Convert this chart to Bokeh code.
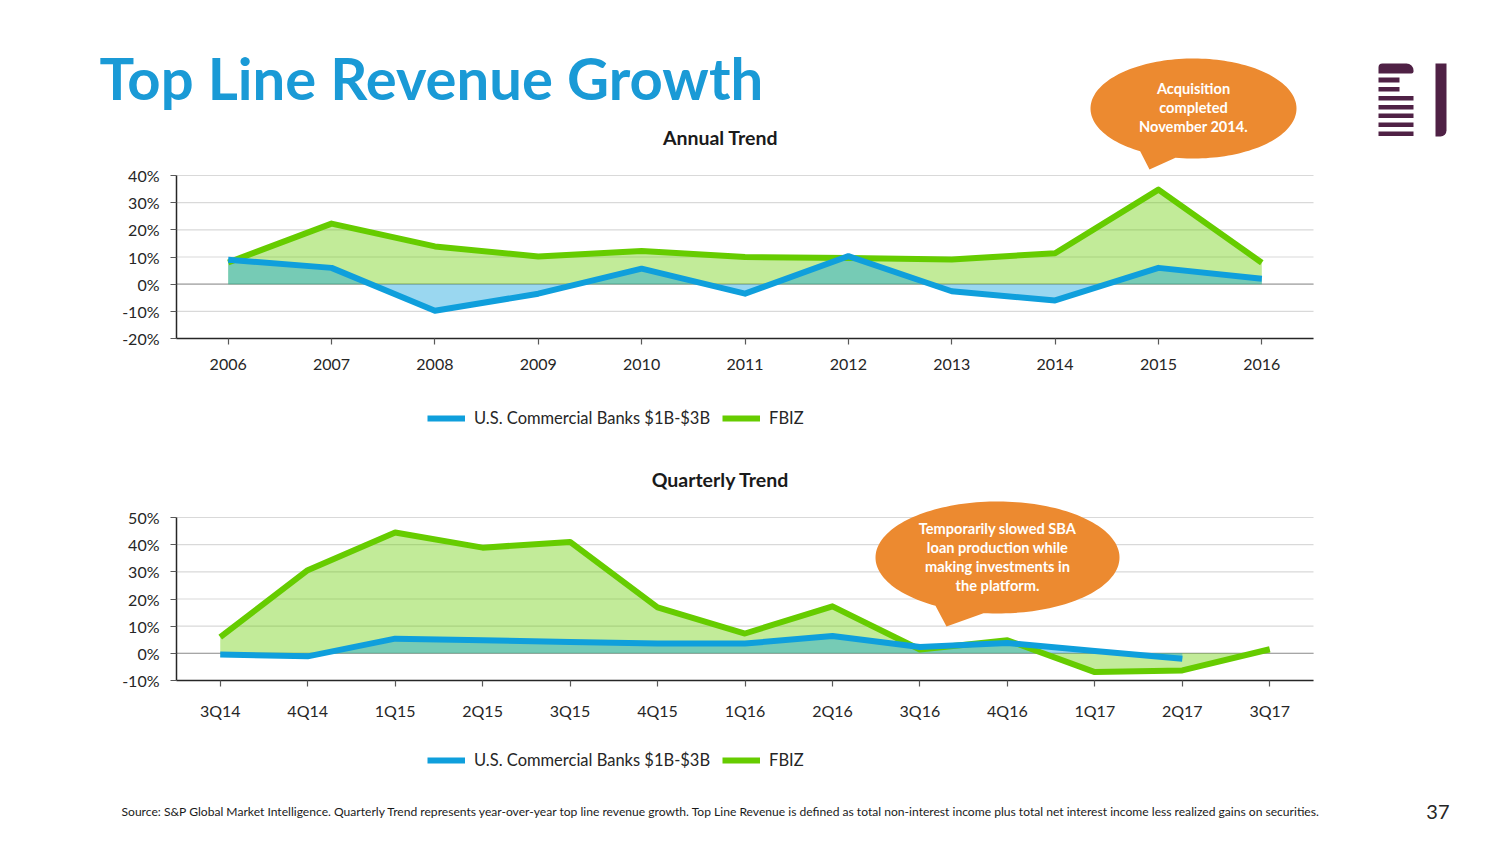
import numpy as np
from bokeh.plotting import figure
from bokeh.models import (Range1d, FixedTicker, PrintfTickFormatter, LinearAxis,
                          Label, Legend, LegendItem, PolyAnnotation, BoxAnnotation)
from bokeh.embed import file_html
from bokeh.resources import INLINE

# ---------------- data ----------------
years = ["2006", "2007", "2008", "2009", "2010", "2011", "2012", "2013", "2014", "2015", "2016"]
annual_banks = [9.0, 6.0, -9.8, -3.5, 5.7, -3.5, 10.3, -2.6, -6.0, 6.0, 2.0]
annual_fbiz = [8.0, 22.3, 13.9, 10.2, 12.2, 10.0, 9.6, 9.1, 11.4, 34.8, 7.9]
annual_ticks = [-20, -10, 0, 10, 20, 30, 40]

quarters = ["3Q14", "4Q14", "1Q15", "2Q15", "3Q15", "4Q15", "1Q16", "2Q16",
            "3Q16", "4Q16", "1Q17", "2Q17", "3Q17"]
quarterly_banks = [-0.4, -1.1, 5.4, 4.8, 4.2, 3.6, 3.6, 6.4, 2.3, 3.8, 0.9, -2.0]
quarterly_fbiz = [6.0, 30.6, 44.5, 38.9, 41.0, 16.9, 7.3, 17.3, 1.4, 4.8, -6.9, -6.3, 1.5]
quarterly_ticks = [-10, 0, 10, 20, 30, 40, 50]

series_names = ["U.S. Commercial Banks $1B-$3B", "FBIZ"]
page_title = "Top Line Revenue Growth"
annual_title = "Annual Trend"
quarterly_title = "Quarterly Trend"
note1 = ["Acquisition", "completed", "November 2014."]
note2 = ["Temporarily slowed SBA", "loan production while", "making investments in", "the platform."]
source_text = ("Source: S&P Global Market Intelligence. Quarterly Trend represents year-over-year top line "
               "revenue growth. Top Line Revenue is defined as total non-interest income plus total net "
               "interest income less realized gains on securities.")
page_number = "37"

# ---------------- style ----------------
BLUE = "#0f9fdc"
GREEN = "#66cc00"
ORANGE = "#ec8a30"
TITLE_BLUE = "#1a9ad6"
PLUM = "#4f2145"
TXT = "#262626"
FONT = "Lato"

W, H = 1504, 846
PLOT_L, PLOT_R = 176, 1313

# one canvas, frame = whole page; main ranges are page pixels (y downwards)
p = figure(width=W, height=H, x_range=Range1d(0, W), y_range=Range1d(H, 0),
           x_axis_location=None, y_axis_location=None, title=None,
           output_backend="svg", toolbar_location=None,
           min_border=0, min_border_left=0, min_border_right=0,
           min_border_top=0, min_border_bottom=0)
p.outline_line_color = None
p.background_fill_color = "white"
p.border_fill_color = "white"
for g in p.grid:
    g.visible = False


def add_chart(key, cats, banks, fbiz, ticks, top_px, bot_px, title, title_y, legend_y):
    n = len(cats)
    pos = [i + 0.5 for i in range(n)]      # category centres
    kx = n / (PLOT_R - PLOT_L)
    ky = (ticks[-1] - ticks[0]) / (bot_px - top_px)
    xn, yn = "x" + key, "y" + key
    p.extra_x_ranges = {**p.extra_x_ranges, xn: Range1d(-PLOT_L * kx, (W - PLOT_L) * kx)}
    p.extra_y_ranges = {**p.extra_y_ranges,
                        yn: Range1d(ticks[0] - (H - bot_px) * ky, ticks[-1] + top_px * ky)}
    kw = dict(x_range_name=xn, y_range_name=yn)

    # gridlines and zero line
    p.segment(x0=[0] * len(ticks), x1=[n] * len(ticks), y0=ticks, y1=ticks,
              line_color="#d9d9d9", line_width=1.2, **kw)
    p.segment(x0=[0], x1=[n], y0=[0], y1=[0], line_color="#a6a6a6", line_width=1.3, **kw)

    n_b = len(banks)
    p.varea(x=pos, y1=0, y2=fbiz, fill_color=GREEN, fill_alpha=0.4, **kw)
    p.varea(x=pos[:n_b], y1=0, y2=banks, fill_color=BLUE, fill_alpha=0.42, **kw)
    gl = p.line(pos, fbiz, line_color=GREEN, line_width=6, line_join="round", **kw)
    bl = p.line(pos[:n_b], banks, line_color=BLUE, line_width=6, line_join="round", **kw)

    xax = LinearAxis(fixed_location=ticks[0], bounds=(0, n), ticker=FixedTicker(ticks=pos),
                     major_label_overrides={x: c for x, c in zip(pos, cats)}, **kw)
    yax = LinearAxis(fixed_location=0, bounds=(ticks[0], ticks[-1]),
                     ticker=FixedTicker(ticks=ticks),
                     formatter=PrintfTickFormatter(format="%d%%"), **kw)
    for ax in (xax, yax):
        ax.axis_line_color = TXT
        ax.axis_line_width = 1.5
        ax.major_tick_line_color = "#595959"
        ax.major_tick_line_width = 1.2
        ax.major_tick_in = 0
        ax.major_tick_out = 6
        ax.minor_tick_line_color = None
        ax.major_label_text_font = FONT
        ax.major_label_text_font_size = "16px"
        ax.major_label_text_color = TXT
    xax.major_label_standoff = 14
    yax.major_label_standoff = 11
    p.add_layout(xax, "below")
    p.add_layout(yax, "left")

    legend = Legend(items=[LegendItem(label=series_names[0], renderers=[bl]),
                           LegendItem(label=series_names[1], renderers=[gl])],
                    location=(427, H - legend_y - 11), orientation="horizontal",
                    glyph_width=38, glyph_height=20, label_standoff=9, spacing=12,
                    padding=0, margin=0, border_line_color=None, background_fill_alpha=0,
                    label_text_font=FONT, label_text_font_size="16.5px", label_text_color=TXT)
    p.add_layout(legend)

    p.add_layout(Label(x=720, y=title_y, text=title, text_align="center", text_baseline="middle",
                       text_font=FONT, text_font_style="bold", text_font_size="19.5px",
                       text_color="#1a1a1a"))


def callout(cx, cy, a, b, base_l, base_r, tip, lines, line_y0, line_dy, size):
    tl = np.arctan2((base_l[1] - cy) / b, (base_l[0] - cx) / a)
    tr = np.arctan2((base_r[1] - cy) / b, (base_r[0] - cx) / a)
    if tr < tl:
        tr += 2 * np.pi
    th = np.linspace(tl, tr, 160)
    xs = list(cx + a * np.cos(th)) + [tip[0]]
    ys = list(cy + b * np.sin(th)) + [tip[1]]
    p.add_layout(PolyAnnotation(xs=[float(v) for v in xs], ys=[float(v) for v in ys],
                                fill_color=ORANGE, fill_alpha=1, line_color=None))
    for i, t in enumerate(lines):
        p.add_layout(Label(x=cx, y=line_y0 + i * line_dy, text=t, text_align="center",
                           text_baseline="middle", text_font=FONT, text_font_style="bold",
                           text_font_size=size, text_color="white"))


add_chart("a", years, annual_banks, annual_fbiz, annual_ticks, 175, 338, annual_title, 137, 417)
add_chart("q", quarters, quarterly_banks, quarterly_fbiz, quarterly_ticks, 517, 680,
          quarterly_title, 479, 759)

# page title
p.add_layout(Label(x=99, y=77, text=page_title, text_align="left", text_baseline="alphabetic",
                   text_font=FONT, text_font_style="bold", text_font_size="58px",
                   text_color=TITLE_BLUE))

# logo mark
for (t, btm, r) in [(77, 82, 1399), (86.5, 91, 1399), (95.5, 100, 1413), (104.5, 109, 1413),
                    (113, 117.5, 1413), (122, 126.5, 1413), (131, 135.5, 1413)]:
    p.add_layout(BoxAnnotation(left=1378, right=r, top=t, bottom=btm,
                               fill_color=PLUM, fill_alpha=1, line_color=None))
p.add_layout(BoxAnnotation(left=1378, right=1413, top=63, bottom=73, fill_color=PLUM,
                           fill_alpha=1, line_color=None, border_radius=(4, 7, 2, 0)))
p.add_layout(BoxAnnotation(left=1435, right=1446, top=63, bottom=136, fill_color=PLUM,
                           fill_alpha=1, line_color=None, border_radius=(0, 0, 6, 0)))

# call-outs
callout(1193, 108, 103, 50, (1140, 150.5), (1175, 157.2), (1149, 169), note1, 88, 19, "14.6px")
callout(997, 557, 122, 56, (935, 605.2), (983, 612.6), (946, 626), note2, 528, 19, "14.6px")

# footer
p.add_layout(Label(x=121, y=811, text=source_text, text_align="left", text_baseline="middle",
                   text_font=FONT, text_font_size="12.1px", text_color="#1a1a1a"))
p.add_layout(Label(x=1449, y=811, text=page_number, text_align="right", text_baseline="middle",
                   text_font=FONT, text_font_size="20px", text_color=TXT))

open("out.html", "w").write(file_html(p, INLINE))
